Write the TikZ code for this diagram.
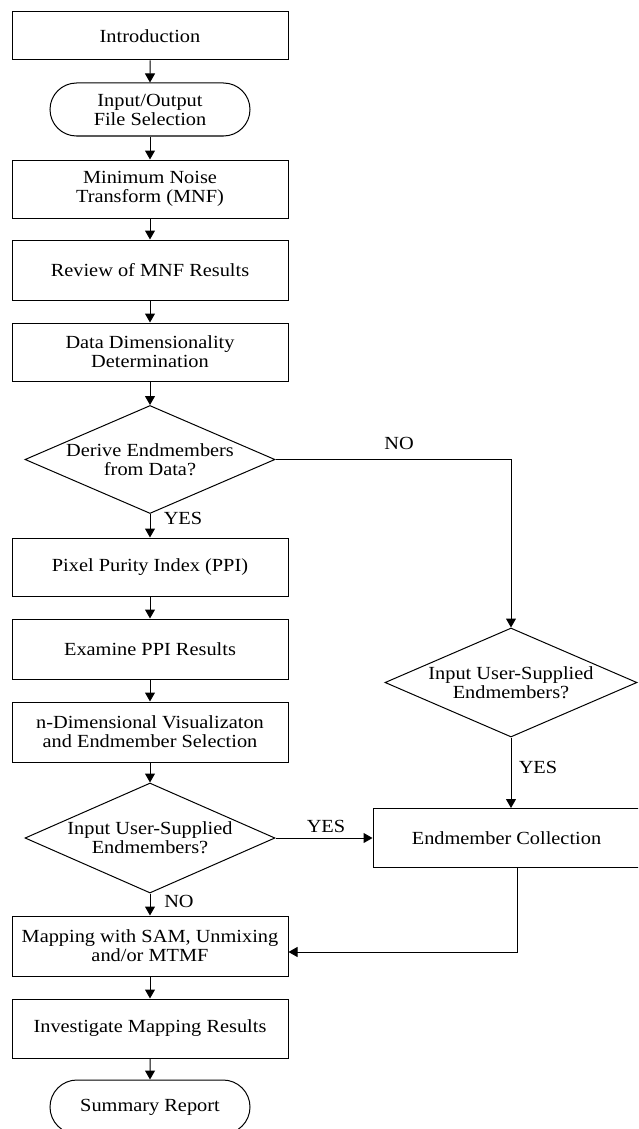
\documentclass[tikz,border=0pt]{standalone}
\usepackage{fontspec}
\setmainfont{Liberation Serif}[FakeStretch=1.1]
\usetikzlibrary{arrows, arrows.meta, shapes.geometric, shapes.misc}

\tikzset{
  box/.style={draw, rectangle, minimum width=276pt, minimum height=59pt, align=center, inner sep=0pt},
  term/.style={draw, rounded rectangle, minimum width=200pt, minimum height=53pt, align=center, inner sep=0pt},
  decision/.style={draw, diamond, aspect=2.3, minimum width=250pt, minimum height=108pt, align=center, inner sep=0pt},
  flow/.style={-{Triangle[width=10pt,length=9pt]}}
}

\begin{document}
\begin{tikzpicture}[x=1pt, y=-1pt, line width=1pt, font=\fontsize{18.5}{19}\selectfont]
\useasboundingbox (0,0) rectangle (638,1129);
\clip (0,0) rectangle (638,1129);

% main column
\node[box, minimum height=48pt] (intro) at (150,36)   {Introduction};
\node[term]                     (io)    at (150,109.5) {Input/Output\\File Selection};
\node[box, minimum height=58pt] (mnf)   at (150,189)  {Minimum Noise\\Transform (MNF)};
\node[box, minimum height=60pt] (review) at (150,270) {Review of MNF Results};
\node[box, minimum height=58pt] (dim)   at (150,352)  {Data Dimensionality\\Determination};
\node[decision]                 (derive) at (150,459.5) {Derive Endmembers\\from Data?};
\node[box, minimum height=58pt] (ppi)   at (150,567)  {Pixel Purity Index (PPI)};
\node[box, minimum height=60pt] (exam)  at (150,649)  {Examine PPI Results};
\node[box, minimum height=60pt] (ndim)  at (150,732)  {n-Dimensional Visualizaton\\and Endmember Selection};
\node[decision, minimum height=110pt] (user) at (150,838) {Input User-Supplied\\Endmembers?};
\node[box, minimum height=60pt] (map)   at (150,946)  {Mapping with SAM, Unmixing\\and/or MTMF};
\node[box, minimum height=59pt] (inv)   at (150,1028.5) {Investigate Mapping Results};
\node[term, minimum height=54pt] (summ) at (150,1107) {Summary Report};

% right branch
\node[decision, minimum width=252pt, minimum height=109pt] (userb) at (511,682.5) {Input User-Supplied\\Endmembers?};
\node[box, minimum width=267pt, minimum height=59pt] (coll) at (506.5,838) {Endmember Collection};

\coordinate (back) at (517,952);

% connectors
\draw[flow] (intro) -- (io);
\draw[flow] (io) -- (mnf);
\draw[flow] (mnf) -- (review);
\draw[flow] (review) -- (dim);
\draw[flow] (dim) -- (derive);
\draw[flow] (derive) -- (ppi);
\draw[flow] (ppi) -- (exam);
\draw[flow] (exam) -- (ndim);
\draw[flow] (ndim) -- (user);
\draw[flow] (user) -- (map);
\draw[flow] (map) -- (inv);
\draw[flow] (inv) -- (summ);

\draw[flow] (derive.east) -- (derive.east -| userb) -- (userb.north);
\draw[flow] (userb.south) -- (userb |- coll.north);
\draw[flow] (user.east) -- (coll.west);
\draw[flow] (coll.south -| back) -- (back) -- (back -| map.east);

% labels
\node (no1)  at (399,443.5) {NO};
\node (yes1) at (183,518)   {YES};
\node (yes2) at (326,826)   {YES};
\node (yes3) at (538,767.5) {YES};
\node (no2)  at (179,901.5) {NO};

\end{tikzpicture}
\end{document}
